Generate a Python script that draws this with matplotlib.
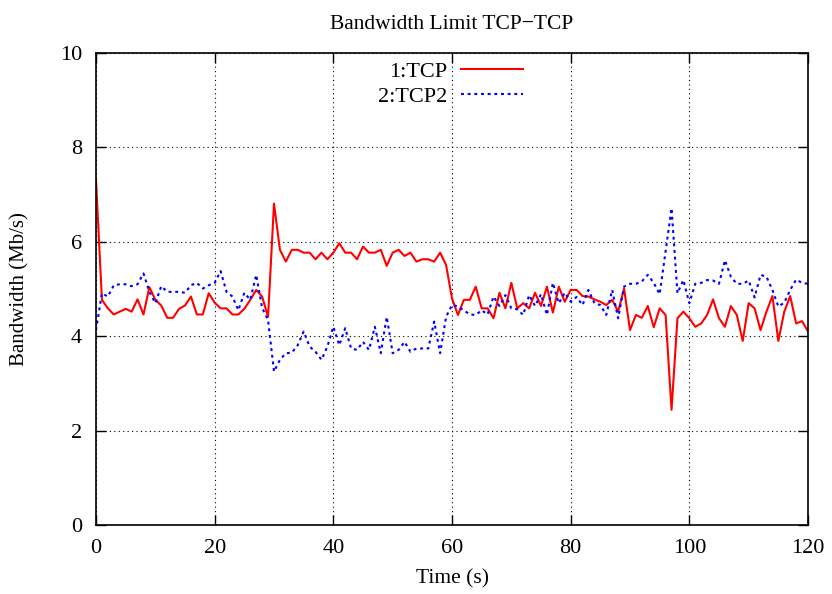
import matplotlib
matplotlib.use("Agg")
import matplotlib.pyplot as plt

# time axis (s) and measured bandwidth (Mb/s)
time_s = list(range(0, 121))

tcp1 = [7.31, 4.77, 4.59, 4.46, 4.52, 4.58, 4.52, 4.78, 4.46, 5.04,
        4.77, 4.65, 4.39, 4.39, 4.58, 4.65, 4.84, 4.46, 4.46, 4.91,
        4.71, 4.59, 4.59, 4.46, 4.46, 4.58, 4.77, 4.98, 4.84, 4.41,
        6.81, 5.83, 5.58, 5.83, 5.83, 5.77, 5.77, 5.63, 5.77, 5.63,
        5.77, 5.97, 5.77, 5.77, 5.63, 5.90, 5.77, 5.77, 5.83, 5.49,
        5.77, 5.83, 5.70, 5.77, 5.58, 5.63, 5.63, 5.58, 5.77, 5.51,
        4.80, 4.45, 4.77, 4.77, 5.05, 4.59, 4.59, 4.38, 4.92, 4.59,
        5.13, 4.59, 4.70, 4.59, 4.92, 4.64, 5.05, 4.50, 5.05, 4.73,
        4.98, 4.98, 4.85, 4.84, 4.78, 4.73, 4.66, 4.77, 4.52, 5.01,
        4.13, 4.45, 4.39, 4.64, 4.19, 4.59, 4.45, 2.44, 4.38, 4.52,
        4.38, 4.20, 4.27, 4.45, 4.78, 4.38, 4.20, 4.64, 4.45, 3.90,
        4.70, 4.59, 4.13, 4.52, 4.85, 3.90, 4.52, 4.85, 4.27, 4.32,
        4.10]

tcp2 = [4.13, 4.91, 4.84, 5.08, 5.10, 5.10, 5.06, 5.10, 5.33, 4.94,
        4.70, 5.06, 4.94, 4.94, 4.94, 4.92, 5.08, 5.13, 5.01, 5.08,
        5.13, 5.38, 4.94, 4.84, 4.55, 4.92, 4.77, 5.30, 4.60, 4.34,
        3.25, 3.50, 3.64, 3.65, 3.81, 4.10, 3.78, 3.67, 3.50, 3.78,
        4.20, 3.81, 4.17, 3.74, 3.71, 3.88, 3.71, 4.20, 3.64, 4.41,
        3.64, 3.71, 3.88, 3.67, 3.74, 3.74, 3.74, 4.31, 3.64, 4.41,
        4.66, 4.63, 4.55, 4.46, 4.45, 4.55, 4.46, 4.84, 4.64, 4.87,
        4.59, 4.57, 4.45, 4.87, 4.64, 4.89, 4.45, 5.13, 4.70, 4.92,
        4.73, 4.83, 4.66, 4.98, 4.70, 4.66, 4.45, 4.98, 4.38, 5.05,
        5.11, 5.11, 5.16, 5.30, 5.13, 4.89, 5.80, 6.71, 4.91, 5.19,
        4.70, 5.11, 5.13, 5.19, 5.18, 5.11, 5.61, 5.26, 5.11, 5.11,
        5.18, 4.82, 5.30, 5.26, 4.98, 4.63, 4.71, 4.98, 5.20, 5.13,
        5.11]

xticks = [0, 20, 40, 60, 80, 100, 120]
yticks = [0, 2, 4, 6, 8, 10]

plt.rcParams['font.family'] = ['Liberation Serif', 'DejaVu Serif']

fig = plt.figure(figsize=(8.32, 5.94), dpi=100)
ax = fig.add_axes([96/832, 1-525/594, (808-96)/832, (525-53)/594])

ax.plot(time_s, tcp1, color='#ff0000', lw=1.5, label='1:TCP')
ax.plot(time_s, tcp2, color='#0000ff', lw=1.5, linestyle=(0, (1.4, 1.8)), label='2:TCP2')

ax.set_xlim(0, 120)
ax.set_ylim(0, 10)
ax.set_xticks(xticks)
ax.set_yticks(yticks)
ax.tick_params(direction='in', length=7, width=1, top=True, right=True,
               labelsize=16, pad=10)
ax.grid(True, color='black', linestyle=(0, (1, 3)), linewidth=0.8)
for s in ax.spines.values():
    s.set_linewidth(1.2)

ax.set_title('Bandwidth Limit TCP\u2212TCP', fontsize=15.5, pad=17)
ax.set_xlabel('Time (s)', fontsize=15.5, labelpad=8)
ax.set_ylabel('Bandwidth (Mb/s)', fontsize=15, labelpad=22)

ax.legend(loc='upper right', bbox_to_anchor=(523/832, 1-61/594),
          bbox_transform=fig.transFigure, frameon=False, markerfirst=False,
          fontsize=16, handlelength=2.8, handletextpad=0.6,
          borderpad=0, borderaxespad=0, labelspacing=0.2)

fig.savefig('out.png', dpi=100)
